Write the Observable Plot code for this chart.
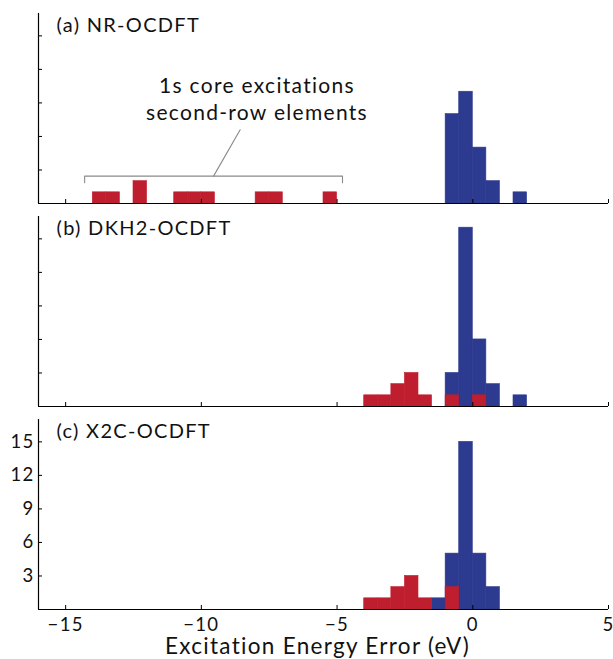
<!DOCTYPE html>
<html>
<head>
<meta charset="utf-8">
<script src="https://cdn.jsdelivr.net/npm/d3@7"></script>
<script src="https://cdn.jsdelivr.net/npm/@observablehq/plot@0.6"></script>
<style>
  html, body { margin: 0; padding: 0; background: #fff; }
  #chart { width: 613px; height: 659px; overflow: hidden; }
  #chart svg { display: block; }
</style>
</head>
<body>
<div id="chart"></div>
<script>
// ---- data (bin lower edges, counts; bin width 0.5 eV) ----
const binWidth = 0.5;

const panelLabels = ["(a) NR-OCDFT", "(b) DKH2-OCDFT", "(c) X2C-OCDFT"];

const nrRedBins    = [-14, -13.5, -12.5, -11, -10.5, -10, -8, -7.5, -5.5];
const nrRedCounts  = [1, 1, 2, 1, 1, 1, 1, 1, 1];
const nrBlueBins   = [-1, -0.5, 0, 0.5, 1.5];
const nrBlueCounts = [8, 10, 5, 2, 1];

const dkhRedBins    = [-4, -3.5, -3, -2.5, -2, -1, 0];
const dkhRedCounts  = [1, 1, 2, 3, 1, 1, 1];
const dkhBlueBins   = [-1, -0.5, 0, 0.5, 1.5];
const dkhBlueCounts = [3, 16, 6, 2, 1];

const x2cRedBins    = [-4, -3.5, -3, -2.5, -2, -1];
const x2cRedCounts  = [1, 1, 2, 3, 1, 2];
const x2cBlueBins   = [-1.5, -1, -0.5, 0, 0.5];
const x2cBlueCounts = [1, 5, 15, 5, 2];

const xTickValues = [-15, -10, -5, 0, 5];
const xTickLabels = ["\u221215", "\u221210", "\u22125", "0", "5"];
const yTickValues = [3, 6, 9, 12, 15];
const yTickLabels = ["3", "6", "9", "12", "15"];

const annotationLines = ["1s core excitations", "second-row elements"];
const annotationLineY = [9.85, 7.45];
const annotationX = -7.95;
const bracketX = [-14.3, -14.3, -4.8, -4.8];
const bracketY = [1.85, 2.45, 2.45, 1.85];
const pointerX = [-9.55, -8.57];
const pointerY = [2.45, 6.6];

const xLabel = "Excitation Energy Error (eV)";

// ---- styling ----
const RED = "#BE1E2E";
const BLUE = "#2C3A8F";
const FONT = "Lato, 'Open Sans', sans-serif";

function toBars(bins, counts) {
  return bins.map((b, i) => ({x1: b, x2: b + binWidth, count: counts[i]}));
}

function panel({label, red, blue, height, marginTop, marginBottom, showAxes, annotate}) {
  const width = 613, marginLeft = 38, marginRight = 5;
  const frameH = height - marginTop - marginBottom;
  const frameW = width - marginLeft - marginRight;
  const marks = [
    Plot.rectY(blue, {x1: "x1", x2: "x2", y: "count", fill: BLUE, stroke: BLUE, strokeWidth: 0.6}),
    Plot.rectY(red, {x1: "x1", x2: "x2", y: "count", fill: RED, stroke: RED, strokeWidth: 0.6}),
    Plot.ruleY([0], {stroke: "#000", strokeWidth: 1.2}),
    Plot.ruleX([-16], {stroke: "#000", strokeWidth: 1.2}),
    Plot.tickX(xTickValues, {x: d => d, stroke: "#000", insetTop: frameH - 4}),
    Plot.tickY(yTickValues, {y: d => d, stroke: "#000", insetRight: frameW - 4}),
    Plot.text([label], {frameAnchor: "top-left", dx: 18, dy: 4.5, fontSize: 20, fill: "#111", lineAnchor: "top"})
  ];
  if (annotate) {
    marks.push(
      Plot.line(bracketX.map((x, i) => ({x, y: bracketY[i]})), {x: "x", y: "y", stroke: "#8a8a8a", strokeWidth: 1.1}),
      Plot.line(pointerX.map((x, i) => ({x, y: pointerY[i]})), {x: "x", y: "y", stroke: "#8a8a8a", strokeWidth: 1.1}),
      Plot.text(annotationLines.map((t, i) => ({t, y: annotationLineY[i]})), {
        x: () => annotationX, y: "y", text: "t", fontSize: 21, fill: "#111", lineAnchor: "bottom"
      })
    );
  }
  if (showAxes) {
    marks.push(
      Plot.axisY(yTickValues, {tickSize: 0, tickPadding: 4, fontSize: 18.5, label: null,
        tickFormat: d => yTickLabels[yTickValues.indexOf(d)]}),
      Plot.axisX(xTickValues, {tickSize: 0, tickPadding: 8, fontSize: 18.5, label: null,
        tickFormat: d => xTickLabels[xTickValues.indexOf(d)]}),
      Plot.text([xLabel], {frameAnchor: "bottom", lineAnchor: "top", dy: 28.5, dx: -6, fontSize: 22.5, fill: "#111"})
    );
  }
  return Plot.plot({
    width, height, marginTop, marginBottom, marginLeft, marginRight,
    style: {fontFamily: FONT, color: "#111", background: "#fff", overflow: "visible", letterSpacing: "1.3px"},
    x: {domain: [-16, 5], axis: null},
    y: {domain: [0, 17], axis: null},
    marks
  });
}

const chart = document.getElementById("chart");
chart.append(
  panel({label: panelLabels[0], red: toBars(nrRedBins, nrRedCounts), blue: toBars(nrBlueBins, nrBlueCounts),
         height: 210, marginTop: 13, marginBottom: 7, showAxes: false, annotate: true}),
  panel({label: panelLabels[1], red: toBars(dkhRedBins, dkhRedCounts), blue: toBars(dkhBlueBins, dkhBlueCounts),
         height: 203, marginTop: 6, marginBottom: 7, showAxes: false, annotate: false}),
  panel({label: panelLabels[2], red: toBars(x2cRedBins, x2cRedCounts), blue: toBars(x2cBlueBins, x2cBlueCounts),
         height: 246, marginTop: 6, marginBottom: 50, showAxes: true, annotate: false})
);
</script>
</body>
</html>
